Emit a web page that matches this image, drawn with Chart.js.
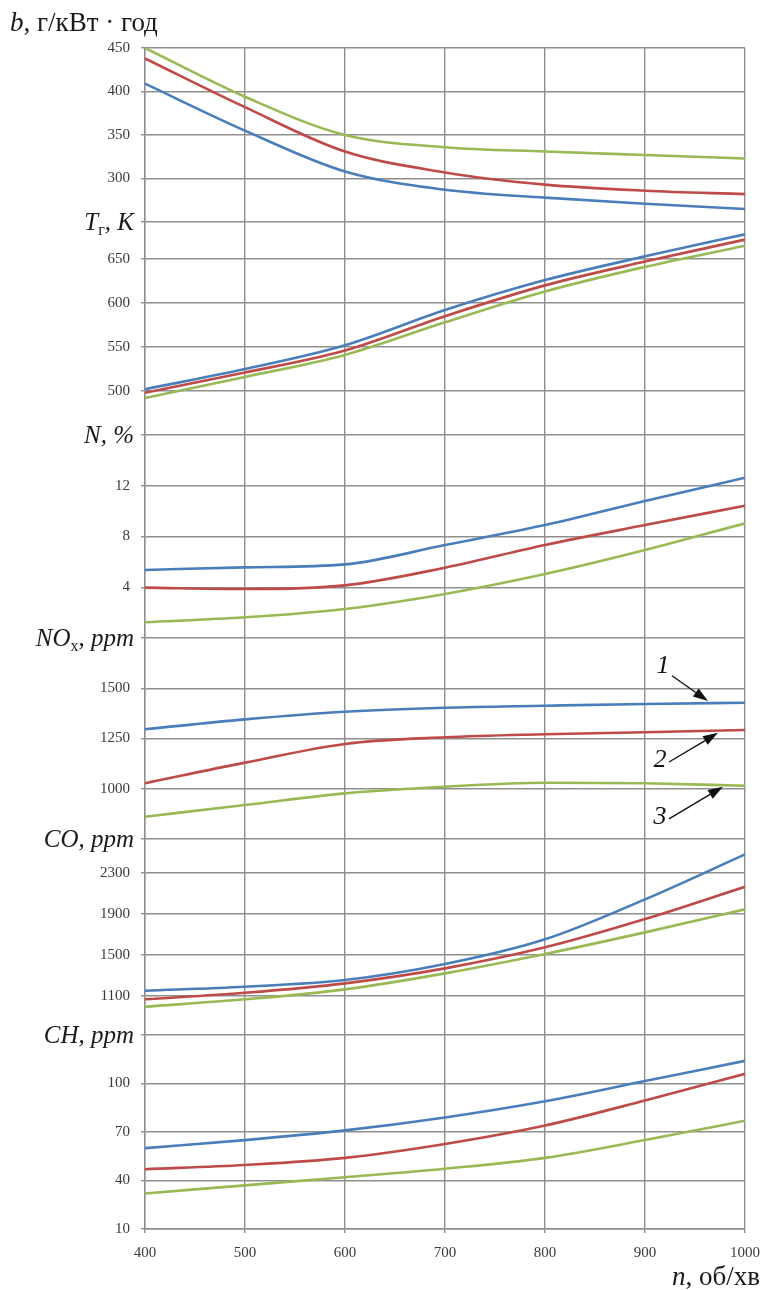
<!DOCTYPE html>
<html>
<head>
<meta charset="utf-8">
<title>Engine characteristics vs speed</title>
<script src="https://cdn.jsdelivr.net/npm/chart.js@4/dist/chart.umd.min.js"></script>
<style>
  html, body { margin: 0; padding: 0; background: #ffffff; }
  canvas { display: block; }
</style>
</head>
<body>
<canvas id="chart" width="762" height="1290"></canvas>
<script>
// Crankshaft speed, rpm
const speed = [400, 500, 600, 700, 800, 900, 1000];

// Specific fuel consumption b, g/kWh
const bSeries1 = [409, 355, 308, 287, 278, 271, 265];
const bSeries2 = [438, 382, 331, 307, 293, 286, 282];
const bSeries3 = [450, 394, 350, 336, 331, 327, 323];

// Exhaust gas temperature T, K
const tSeries1 = [502, 525, 552, 592, 626, 653, 678];
const tSeries2 = [498, 521, 546, 585, 620, 647, 672];
const tSeries3 = [492, 516, 541, 578, 613, 641, 665];

// Smoke opacity N, %
const nSeries1 = [5.36, 5.57, 5.8, 7.33, 8.9, 10.8, 12.63];
const nSeries2 = [3.97, 3.86, 4.15, 5.54, 7.33, 8.9, 10.43];
const nSeries3 = [1.24, 1.63, 2.29, 3.47, 5.04, 6.93, 9.04];

// NOx, ppm
const noxSeries1 = [1296, 1345, 1383, 1403, 1413, 1422, 1428];
const noxSeries2 = [1027, 1130, 1223, 1256, 1271, 1281, 1292];
const noxSeries3 = [861, 919, 977, 1010, 1030, 1027, 1015];

// CO, ppm
const coSeries1 = [1152, 1191, 1256, 1412, 1653, 2043, 2482];
const coSeries2 = [1068, 1132, 1224, 1370, 1575, 1851, 2166];
const coSeries3 = [996, 1068, 1165, 1321, 1510, 1721, 1946];

// CH, ppm
const chSeries1 = [60, 65, 71, 79, 89, 101.5, 114];
const chSeries2 = [47, 49.6, 54, 62.6, 74, 89.5, 106];
const chSeries3 = [32, 37, 42, 47.3, 54, 65, 77];

// Tick grids and the tick values that carry labels
const xTicks = [400, 500, 600, 700, 800, 900, 1000];
const bGrid = [250, 300, 350, 400, 450];     const bLabels = [300, 350, 400, 450];
const tGrid = [450, 500, 550, 600, 650];     const tLabels = [500, 550, 600, 650];
const nGrid = [0, 4, 8, 12];                 const nLabels = [4, 8, 12];
const noxGrid = [750, 1000, 1250, 1500];     const noxLabels = [1000, 1250, 1500];
const coGrid = [720, 1100, 1500, 1900, 2300]; const coLabels = [1100, 1500, 1900, 2300];
const chGrid = [10, 40, 70, 100];            const chLabels = [10, 40, 70, 100];

// Curve numbers 1..3 with arrow tips on the NOx panel (data units)
const curveNumbers = ['1', '2', '3'];
const arrowTips = [[963, 1436], [973, 1278], [978, 1010]];
const numberSpots = [[918, 1612], [915, 1143], [915, 860]];

const COLORS = ['#4A7EBB', '#BE4B48', '#98B954'];
const GRID = '#8f8f8f';
const TICK_FONT = { family: '"Liberation Serif", "Times New Roman", serif', size: 15 };

function pts(vals) { return speed.map((x, i) => ({ x, y: vals[i] })); }

function series(vals, idx, axis) {
  return {
    data: pts(vals), yAxisID: axis,
    borderColor: COLORS[idx], backgroundColor: COLORS[idx],
    borderWidth: 2.6, pointRadius: 0, fill: false,
    cubicInterpolationMode: 'monotone'
  };
}

function yScale(min, max, grid, labels, weight, stackWeight) {
  return {
    type: 'linear', position: 'left', stack: 'panels',
    weight, stackWeight, min, max,
    afterBuildTicks: s => { s.ticks = grid.map(v => ({ value: v })); },
    afterFit: s => { s.width = 145; s.paddingTop = 0; s.paddingBottom = 0; },
    ticks: {
      autoSkip: false, padding: 11, color: '#3a3a3a', font: TICK_FONT,
      callback: v => labels.includes(v) ? String(v) : ''
    },
    grid: { color: GRID, lineWidth: 1.4, tickLength: 4, drawTicks: true },
    border: { display: true, color: GRID, width: 1.4 }
  };
}

const SERIF = '"Liberation Serif", "Times New Roman", serif';

function drawRuns(ctx, runs, x, y, align) {
  let total = 0;
  runs.forEach(r => { ctx.font = r.font; r.w = ctx.measureText(r.text).width; total += r.w; });
  let cx = align === 'right' ? x - total : x;
  runs.forEach(r => { ctx.font = r.font; ctx.fillText(r.text, cx, y + (r.dy || 0)); cx += r.w; });
}

const it = 'italic 25px ' + SERIF;
const sub = '16px ' + SERIF;
const itBig = 'italic 27px ' + SERIF;
const upBig = '27px ' + SERIF;

const panelTitles = [
  { axis: 'yT', runs: [{ text: 'T', font: it }, { text: 'г', font: sub, dy: 5 }, { text: ', K', font: it }] },
  { axis: 'yN', runs: [{ text: 'N, %', font: it }] },
  { axis: 'yNOx', runs: [{ text: 'NO', font: it }, { text: 'x', font: sub, dy: 5 }, { text: ', ppm', font: it }] },
  { axis: 'yCO', runs: [{ text: 'CO, ppm', font: it }] },
  { axis: 'yCH', runs: [{ text: 'CH, ppm', font: it }] }
];

const labelsPlugin = {
  id: 'panelLabels',
  afterDraw(chart) {
    const ctx = chart.ctx;
    ctx.save();
    ctx.fillStyle = '#1a1a1a';
    ctx.textAlign = 'left';
    ctx.textBaseline = 'alphabetic';

    // Top axis title
    drawRuns(ctx, [{ text: 'b', font: itBig }, { text: ', г/кВт · год', font: upBig }], 10, 31, 'left');

    // Panel titles on each panel's upper border
    panelTitles.forEach(p => {
      const sc = chart.scales[p.axis];
      drawRuns(ctx, p.runs, 134, sc.top + 8, 'right');
    });

    // x-axis title
    drawRuns(ctx, [{ text: 'n', font: itBig }, { text: ', об/хв', font: upBig }], 760, 1285, 'right');

    // Curve numbers with arrows on the NOx panel
    const xs = chart.scales.x, ys = chart.scales.yNOx;
    ctx.strokeStyle = '#111';
    ctx.fillStyle = '#111';
    ctx.lineWidth = 1.4;
    curveNumbers.forEach((num, i) => {
      const tx = xs.getPixelForValue(arrowTips[i][0]);
      const ty = ys.getPixelForValue(arrowTips[i][1]);
      const lx = xs.getPixelForValue(numberSpots[i][0]);
      const ly = ys.getPixelForValue(numberSpots[i][1]);
      ctx.font = 'italic 26px ' + SERIF;
      ctx.textAlign = 'center';
      ctx.textBaseline = 'middle';
      ctx.fillText(num, lx, ly);
      // arrow from beside the number to the curve
      const sx = lx + 9, sy = ly + (i === 0 ? 10 : 2);
      const ang = Math.atan2(ty - sy, tx - sx);
      const head = 15, half = 5;
      const bx = tx - head * Math.cos(ang), by = ty - head * Math.sin(ang);
      ctx.beginPath();
      ctx.moveTo(sx, sy);
      ctx.lineTo(bx, by);
      ctx.stroke();
      ctx.beginPath();
      ctx.moveTo(tx, ty);
      ctx.lineTo(bx + half * Math.sin(ang), by - half * Math.cos(ang));
      ctx.lineTo(bx - half * Math.sin(ang), by + half * Math.cos(ang));
      ctx.closePath();
      ctx.fill();
    });
    ctx.restore();
  }
};

new Chart(document.getElementById('chart'), {
  type: 'line',
  data: {
    datasets: [
      series(bSeries1, 0, 'yB'), series(bSeries2, 1, 'yB'), series(bSeries3, 2, 'yB'),
      series(tSeries1, 0, 'yT'), series(tSeries2, 1, 'yT'), series(tSeries3, 2, 'yT'),
      series(nSeries1, 0, 'yN'), series(nSeries2, 1, 'yN'), series(nSeries3, 2, 'yN'),
      series(noxSeries1, 0, 'yNOx'), series(noxSeries2, 1, 'yNOx'), series(noxSeries3, 2, 'yNOx'),
      series(coSeries1, 0, 'yCO'), series(coSeries2, 1, 'yCO'), series(coSeries3, 2, 'yCO'),
      series(chSeries1, 0, 'yCH'), series(chSeries2, 1, 'yCH'), series(chSeries3, 2, 'yCH')
    ]
  },
  options: {
    responsive: false,
    animation: false,
    devicePixelRatio: 1,
    layout: { padding: { top: 48, right: 17, bottom: 0, left: 0 } },
    plugins: { legend: { display: false }, tooltip: { enabled: false } },
    scales: {
      x: {
        type: 'linear', min: 400, max: 1000,
        afterBuildTicks: s => { s.ticks = xTicks.map(v => ({ value: v })); },
        afterFit: s => { s.height = 61; s.paddingLeft = 0; s.paddingRight = 0; },
        ticks: {
          autoSkip: false, padding: 11, color: '#3a3a3a', font: TICK_FONT, maxRotation: 0,
          callback: v => String(v)
        },
        grid: { color: GRID, lineWidth: 1.4, tickLength: 4 },
        border: { display: true, color: GRID, width: 1.4 }
      },
      yB: yScale(250, 450, bGrid, bLabels, 6, 174),
      yT: yScale(450, 692, tGrid, tLabels, 5, 213),
      yN: yScale(0, 16, nGrid, nLabels, 4, 203),
      yNOx: yScale(750, 1750, noxGrid, noxLabels, 3, 201),
      yCO: yScale(720, 2632, coGrid, coLabels, 2, 196),
      yCH: yScale(10, 130, chGrid, chLabels, 1, 194)
    }
  },
  plugins: [labelsPlugin]
});
</script>
</body>
</html>
